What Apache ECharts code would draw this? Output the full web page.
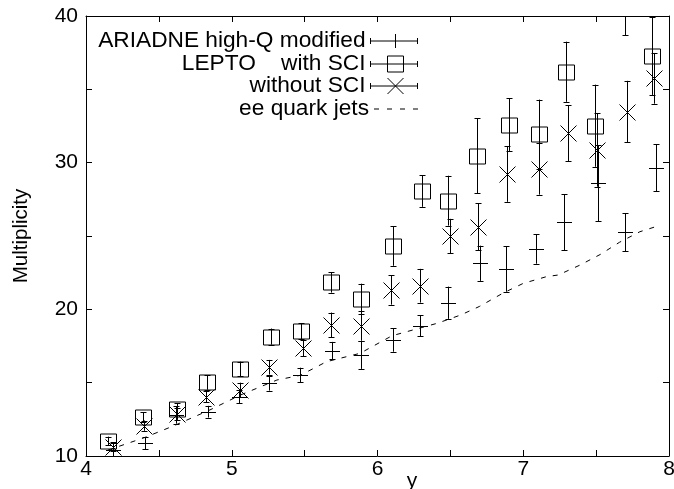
<!DOCTYPE html>
<html><head><meta charset="utf-8">
<script src="https://cdn.jsdelivr.net/npm/echarts@6/dist/echarts.min.js"></script>
<style>html,body{margin:0;padding:0;background:#fff}#c{width:674px;height:489px}</style>
</head><body><div id="c"></div>
<script>
// ---- data ----
const ariadneX   = [4.185,4.405,4.617,4.84,5.05,5.256,5.468,5.686,5.89,6.108,6.29,6.486,6.70,6.88,7.085,7.28,7.51,7.70,7.91];
const ariadneY   = [10.4,10.87,12.8,13.02,14.04,14.96,15.52,17.18,16.89,17.91,18.88,20.45,23.14,22.75,24.11,25.93,28.6,25.25,29.66];
const ariadneErr = [0.5,0.4,0.6,0.4,0.45,0.5,0.5,0.6,0.95,0.8,0.7,1.1,1.2,1.55,1.0,1.9,2.6,1.3,1.6];

const sciX   = [4.149,4.389,4.622,4.828,5.057,5.267,5.473,5.681,5.887,6.108,6.303,6.486,6.68,6.90,7.106,7.29,7.49,7.70,7.886];
const sciY   = [11.02,12.64,13.18,15.02,15.93,18.14,18.52,21.84,20.70,24.32,28.07,27.41,30.48,32.6,31.95,36.2,32.52,41.5,37.27];
const sciErr = [0.3,0.35,0.4,0.5,0.5,0.55,0.55,0.7,1.05,1.35,1.08,1.7,2.55,1.8,2.35,2.05,2.8,2.8,2.65];

const noSciX   = [4.187,4.40,4.622,4.823,5.057,5.258,5.487,5.679,5.887,6.093,6.29,6.497,6.69,6.886,7.108,7.305,7.508,7.71,7.90];
const noSciY   = [10.64,12.07,12.86,14.05,14.5,16.05,17.34,18.93,18.86,21.32,21.61,25.0,25.64,29.23,29.57,32.0,30.86,33.48,35.75];
const noSciErr = [0.3,0.35,0.4,0.4,0.5,0.5,0.55,0.85,1.0,1.0,1.15,1.17,1.6,1.9,1.75,1.9,2.5,2.1,1.73];

const eeX = [4.15,4.4,4.6,4.85,5.06,5.31,5.47,5.65,5.88,6.10,6.41,6.57,6.70,6.86,7.0,7.16,7.24,7.39,7.53,7.66,7.80,7.91];
const eeY = [10.4,11.25,12.05,13.14,14.16,15.18,15.5,16.43,17.0,18.2,19.05,19.61,20.2,21.1,21.77,22.23,22.34,23.02,23.75,24.57,25.29,25.64];

const seriesNames = ['ARIADNE high-Q modified', 'LEPTO    with SCI', 'without SCI', 'ee quark jets'];
const xTickLabels = [4, 5, 6, 7, 8];
const yTickLabels = [10, 20, 30, 40];

// ---- chart ----
const FONT = 'Liberation Sans';
const chart = echarts.init(document.getElementById('c'), null, {renderer: 'canvas'});

function triples(xs, ys, es) { return xs.map((x, i) => [x, ys[i], es[i]]); }

function errRender(kind) {
  return function (params, api) {
    const x = api.value(0), y = api.value(1), e = api.value(2);
    const c = api.coord([x, y]);
    const lo = api.coord([x, y - e]);
    const hi = api.coord([x, y + e]);
    const px = Math.round(c[0]) + 0.5;
    const st = {stroke: '#000', lineWidth: 1, fill: null};
    const ch = [
      {type: 'line', shape: {x1: px, y1: lo[1], x2: px, y2: hi[1]}, style: st},
      {type: 'line', shape: {x1: px - 3, y1: Math.round(lo[1]) + 0.5, x2: px + 3, y2: Math.round(lo[1]) + 0.5}, style: st},
      {type: 'line', shape: {x1: px - 3, y1: Math.round(hi[1]) + 0.5, x2: px + 3, y2: Math.round(hi[1]) + 0.5}, style: st}
    ];
    const cy = Math.round(c[1]) + 0.5;
    if (kind === 'plus') {
      ch.push({type: 'line', shape: {x1: px - 7.5, y1: cy, x2: px + 7.5, y2: cy}, style: st});
    } else if (kind === 'box') {
      ch.push({type: 'rect', shape: {x: px - 8, y: cy - 7.5, width: 16, height: 15}, style: {stroke: '#000', lineWidth: 1, fill: 'none'}});
    } else {
      ch.push({type: 'line', shape: {x1: px - 8, y1: cy - 8, x2: px + 8, y2: cy + 8}, style: st});
      ch.push({type: 'line', shape: {x1: px - 8, y1: cy + 8, x2: px + 8, y2: cy - 8}, style: st});
    }
    return {type: 'group', children: ch};
  };
}

const axisCommon = {
  type: 'value',
  axisLine: {show: true, lineStyle: {color: '#000', width: 1}},
  axisTick: {show: true, inside: true, length: 6, lineStyle: {color: '#000', width: 1}},
  splitLine: {show: false}
};

function legendFor(name, icon, top, w, h, fillIcon) {
  return {
    orient: 'vertical', align: 'right', right: 256, top: top, padding: 0,
    itemWidth: w, itemHeight: h, selectedMode: false,
    data: [{name: name, icon: icon}],
    textStyle: {fontFamily: FONT, fontSize: 22.7, color: '#000'},
    itemStyle: fillIcon ? {color: '#000', borderWidth: 0}
                        : {color: 'transparent', borderColor: '#000', borderWidth: 1}
  };
}

const option = {
  animation: false,
  backgroundColor: '#fff',
  grid: {left: 86, right: 5, top: 16, bottom: 33, outerBoundsMode: 'none', containLabel: false},
  xAxis: [
    Object.assign({}, axisCommon, {
      min: 4, max: 8, interval: 0.5, position: 'bottom',
      name: 'y', nameLocation: 'middle', nameGap: 15, nameMoveOverlap: false,
      nameTextStyle: {fontFamily: FONT, fontSize: 21, color: '#000', padding: [0, 0, 0, 69]},
      axisLabel: {margin: 3, fontFamily: FONT, fontSize: 21, color: '#000',
        formatter: v => xTickLabels.indexOf(v) >= 0 ? String(v) : ''}
    }),
    Object.assign({}, axisCommon, {min: 4, max: 8, interval: 0.5, position: 'top', axisLabel: {show: false}})
  ],
  yAxis: [
    Object.assign({}, axisCommon, {
      min: 10, max: 40, interval: 5, position: 'left',
      name: 'Multiplicity', nameLocation: 'middle', nameGap: 54, nameMoveOverlap: false,
      nameTextStyle: {fontFamily: FONT, fontSize: 20.5, color: '#000'},
      axisLabel: {margin: 8, fontFamily: FONT, fontSize: 21, color: '#000',
        formatter: v => yTickLabels.indexOf(v) >= 0 ? String(v) : ''}
    }),
    Object.assign({}, axisCommon, {min: 10, max: 40, interval: 5, position: 'right', axisLabel: {show: false}})
  ],
  legend: [
    legendFor(seriesNames[0], 'path://M0 4V10M0 7H47M47 4V10M25 0V14', 29.5, 47, 14),
    legendFor(seriesNames[1], 'path://M0 5V11M0 8H47M47 5V11M17 0H33V16H17Z', 52.5, 47, 16),
    legendFor(seriesNames[2], 'path://M0 5V11M0 8H47M47 5V11M17 0L33 16M33 0L17 16', 74.5, 47, 16),
    legendFor(seriesNames[3], 'path://M0 0H5V1H0Z M13 0H18V1H13Z M26 0H31V1H26Z M39 0H44V1H39Z', 97.5, 44, 1, true)
  ],
  series: [
    {name: seriesNames[0], type: 'custom', clip: true, renderItem: errRender('plus'),
     encode: {x: 0, y: 1}, itemStyle: {color: '#000'}, data: triples(ariadneX, ariadneY, ariadneErr), silent: true},
    {name: seriesNames[1], type: 'custom', clip: true, renderItem: errRender('box'),
     encode: {x: 0, y: 1}, itemStyle: {color: '#000'}, data: triples(sciX, sciY, sciErr), silent: true},
    {name: seriesNames[2], type: 'custom', clip: true, renderItem: errRender('cross'),
     encode: {x: 0, y: 1}, itemStyle: {color: '#000'}, data: triples(noSciX, noSciY, noSciErr), silent: true},
    {name: seriesNames[3], type: 'line', symbol: 'none', silent: true,
     lineStyle: {color: '#000', width: 1, type: [5, 7]}, itemStyle: {color: '#000'},
     data: eeX.map((x, i) => [x, eeY[i]])}
  ]
};
chart.setOption(option);
</script>
</body></html>
